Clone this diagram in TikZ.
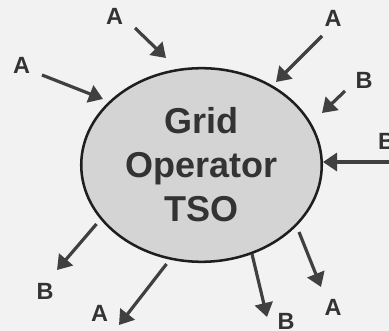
\documentclass[tikz,border=0pt]{standalone}
\usepackage{fontspec}
\setmainfont{Liberation Sans}
\usepackage{tikz}
\usepackage{xcolor}
\usetikzlibrary{arrows.meta, shapes.geometric}
\definecolor{bggray}{RGB}{242,242,242}
\definecolor{ovalfill}{RGB}{212,212,212}
\definecolor{ovalline}{RGB}{30,30,30}
\definecolor{arrowgray}{RGB}{64,64,64}
\definecolor{textgray}{RGB}{51,51,51}

\begin{document}
\begin{tikzpicture}[x=0.75pt, y=-0.75pt,
    oval/.style={ellipse, draw=ovalline, line width=1.9pt, fill=ovalfill,
                 minimum width=180.4pt, minimum height=145.2pt, inner sep=0pt,
                 align=center, text=textgray,
                 font=\fontsize{27}{33}\selectfont\bfseries},
    lab/.style={inner sep=0pt, text=textgray,
                font=\fontsize{17.6}{20}\selectfont\bfseries},
    line/.style={-{Triangle[length=10.5pt, width=13.5pt]}, line width=2.4pt,
                 draw=arrowgray}]

    % page
    \fill[bggray] (0,0) rectangle (389,331);
    \useasboundingbox (0,0) rectangle (389,331);

    % operator
    \node[oval] (tso) at (201.5,165) {Grid\\Operator\\TSO};

    % labels
    \node[lab] (la1) at (114.5,16.5) {A};
    \node[lab] (la2) at (21.5,65.5)  {A};
    \node[lab] (la3) at (333,18.5)   {A};
    \node[lab] (lb4) at (364,80)     {B};
    \node[lab] (lb5) at (386.5,141)  {B};
    \node[lab] (lb6) at (45,291)     {B};
    \node[lab] (la7) at (99.5,313.5) {A};
    \node[lab] (lb8) at (286,321)    {B};
    \node[lab] (la9) at (333,307)    {A};

    % arrow ends
    \coordinate (t1) at (135,28);   \coordinate (h1) at (166,58);
    \coordinate (t2) at (42,75);    \coordinate (h2) at (103,99);
    \coordinate (t3) at (322,36);   \coordinate (h3) at (276,82);
    \coordinate (t4) at (345,91);   \coordinate (h4) at (322,113);
    \coordinate (t5) at (392,162);  \coordinate (h5) at (323,162);
    \coordinate (t6) at (96.5,224); \coordinate (h6) at (57,270);
    \coordinate (t7) at (166.5,264);\coordinate (h7) at (119,325);
    \coordinate (t8) at (252,254);  \coordinate (h8) at (267,317);
    \coordinate (t9) at (299,232);  \coordinate (h9) at (321,287);

    % incoming
    \draw[line] (t1) -- (h1);
    \draw[line] (t2) -- (h2);
    \draw[line] (t3) -- (h3);
    \draw[line] (t4) -- (h4);
    \draw[line] (t5) -- (h5);

    % outgoing
    \draw[line] (t6) -- (h6);
    \draw[line] (t7) -- (h7);
    \draw[line] (t8) -- (h8);
    \draw[line] (t9) -- (h9);
\end{tikzpicture}
\end{document}
